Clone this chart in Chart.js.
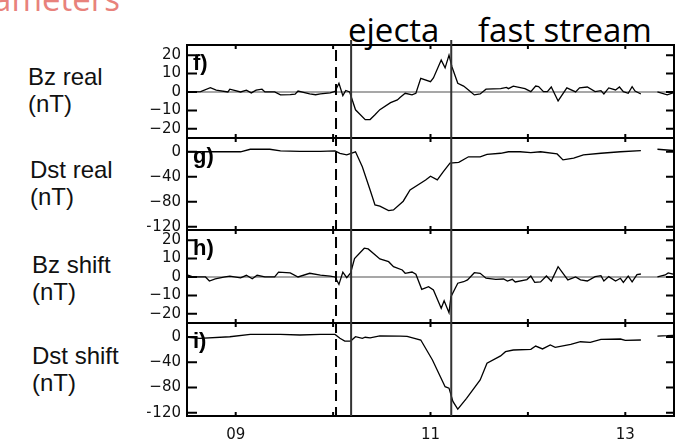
<!DOCTYPE html>
<html lang="en">
<head>
<meta charset="UTF-8">
<title>Bz and Dst, real and shifted</title>
<script src="https://cdn.jsdelivr.net/npm/chart.js"></script>
<style>
  body { margin: 0; background: #fff; }
  #wrap { position: relative; width: 675px; height: 445px; overflow: hidden; font-family: "Liberation Sans", Arial, sans-serif; }
  #wrap canvas { position: absolute; left: 0; top: 0; }
  .note { position: absolute; white-space: nowrap; line-height: 1; }
  .side { font-size: 24px; line-height: 27px; color: #111; }
  .tag { font-size: 22px; font-weight: bold; color: #000; }
  .head { font-family: "Open Sans", sans-serif; font-size: 33px; color: #000; }
</style>
</head>
<body>
<div id="wrap">
  <div class="note head" style="right:555px; top:-18px; color:#e8827c;">Parameters</div>
  <div class="note head" style="left:348px; top:13px;">ejecta</div>
  <div class="note head" style="left:478px; top:13px;">fast stream</div>

  <div class="note side" style="left:28px; top:63px;">Bz real<br>(nT)</div>
  <div class="note side" style="left:30px; top:156px;">Dst real<br>(nT)</div>
  <div class="note side" style="left:32px; top:251px;">Bz shift<br>(nT)</div>
  <div class="note side" style="left:32px; top:342px;">Dst shift<br>(nT)</div>
</div>

<script>
// time axis in days of the month
const xMin = 8.5, xMax = 13.5;
const dayTicks = [9, 10, 11, 12, 13];
const dayLabelVals = [9, 11, 13];
const dayLabelText = ['09', '11', '13'];
const bzTicks = [20, 10, 0, -10, -20];
const dstTicks = [0, -40, -80, -120];

// event times (days)
const shockTime = 10.03;
const ejectaTime = 10.185;
const streamTime = 11.213;

// f) Bz real (nT)
const bzRealT = [8.51, 8.64, 8.74, 8.80, 8.92, 8.94, 9.05, 9.11, 9.16, 9.21, 9.27, 9.30, 9.40, 9.46, 9.56, 9.61, 9.64, 9.76, 9.82, 9.87,
  9.97, 10.02, 10.06, 10.10, 10.13, 10.17, 10.23, 10.33, 10.38, 10.43, 10.48, 10.59, 10.66, 10.69, 10.74, 10.81, 10.85, 10.90, 11.00, 11.03,
  11.11, 11.15, 11.19, 11.22, 11.28, 11.34, 11.39, 11.45, 11.51, 11.57, 11.72, 11.78, 11.80, 11.85, 11.97, 12.03, 12.08, 12.11, 12.16, 12.20,
  12.24, 12.31, 12.40, 12.49, 12.53, 12.61, 12.69, 12.75, 12.78, 12.83, 12.90, 12.94, 12.98, 13.03, 13.07, 13.10, 13.16, 13.24, 13.33, 13.43, 13.49];
const bzRealV = [0, 0.2, 2.3, 1, 0, 1.5, 0, 1, -0.5, 1, 1.5, 0, 0, -1.6, -1.5, -1.2, 0.5, -1, -1.5, -1,
  -0.5, 0.3, 4.7, -2, 0.8, 0, -9.7, -15, -15, -12.4, -9.6, -5.8, -4.3, -2.9, -0.7, -1.6, -0.7, 7.4, 5.6, 7.6,
  17.3, 13.1, 20, 13.7, 4.7, 3.2, 1.1, -1.6, -1.1, 1.5, 1.8, 2.5, 1.8, 3.2, 1.8, 0.2, 3.2, 2.9, 0.2, 0.2,
  2.7, -4.9, 2.2, 0, 2.2, 2.7, 0.2, 0.7, -1.1, 2.2, 1.1, 2.7, 0.2, -0.7, 2.9, 0.5, -1.1, null, 0, -1.6, -0.5];

// g) Dst real (nT)
const dstRealT = [8.51, 9.05, 9.15, 9.35, 9.46, 9.66, 9.87, 10.02, 10.07, 10.14, 10.23, 10.30, 10.38, 10.43, 10.48, 10.57, 10.62, 10.72, 10.79, 10.95,
  11.00, 11.07, 11.13, 11.20, 11.29, 11.39, 11.51, 11.58, 11.72, 11.80, 11.92, 12.03, 12.13, 12.30, 12.36, 12.47, 12.57, 12.75, 12.95, 13.16,
  13.24, 13.33, 13.49];
const dstRealV = [0, 0, 4, 4, 1.3, 0.5, 0.5, 1.3, -2.4, -5, 0, -24, -61, -85, -87, -94, -93, -79, -61, -45,
  -39, -45, -32, -18, -17, -8, -8, -4, -2.4, 0, 0, -1.4, 0, -3.5, -13, -10, -5, -2.4, 0, 1.8,
  null, 4, 2];

// h) Bz shift (nT)
const bzShiftT = [8.51, 8.56, 8.69, 8.73, 8.79, 8.89, 8.94, 9.05, 9.11, 9.17, 9.22, 9.30, 9.40, 9.44, 9.56, 9.64, 9.76, 9.87, 9.97, 10.02,
  10.06, 10.10, 10.14, 10.18, 10.22, 10.32, 10.36, 10.43, 10.48, 10.57, 10.62, 10.71, 10.74, 10.81, 10.85, 10.91, 10.98, 11.03, 11.11, 11.14,
  11.19, 11.21, 11.28, 11.34, 11.38, 11.45, 11.51, 11.57, 11.67, 11.75, 11.79, 11.84, 11.87, 11.99, 12.03, 12.07, 12.13, 12.19, 12.24, 12.31,
  12.41, 12.49, 12.54, 12.61, 12.69, 12.75, 12.78, 12.83, 12.90, 12.95, 12.98, 13.03, 13.07, 13.12, 13.16, 13.24, 13.33, 13.41, 13.44, 13.49];
const bzShiftV = [1, 0, 0, -2.2, -1, 0, 0.5, -0.5, 0.9, -1, 0.9, 0, 0, 2.6, 2.2, 0, 2, 1, 0.5, 0,
  -4, 2.6, -0.4, 2.2, 10, 15.6, 15.2, 12, 9.8, 8.3, 5.6, 3.8, 2, 2.7, 1.5, -6.7, -5.3, -7.1, -17, -12.9,
  -19.4, -10.7, -3.4, -2.6, -1.6, 2.3, 2, -0.7, -1.3, -1.1, -2.2, -1.3, -2.7, -1.4, 0.5, -2.9, -2.7, 0.5, -2.2, 5.6,
  -1.6, 0, -1.6, -2.2, 0.2, 0.7, -2.2, 0.2, -2.2, -0.7, -2.9, 0.5, -2.6, 1.3, 1.6, null, 0, 1.1, 2.2, 1.6];

// i) Dst shift (nT)
const dstShiftT = [8.51, 8.63, 8.94, 9.15, 9.46, 9.66, 9.87, 10.02, 10.07, 10.12, 10.18, 10.23, 10.30, 10.33, 10.38, 10.48, 10.69, 10.76, 10.90, 11.02,
  11.15, 11.19, 11.23, 11.28, 11.37, 11.51, 11.58, 11.72, 11.77, 11.85, 12.03, 12.08, 12.15, 12.23, 12.28, 12.44, 12.54, 12.64, 12.75, 12.95,
  13.00, 13.16, 13.24, 13.33, 13.43, 13.49];
const dstShiftV = [-0.6, -2.2, 0.3, 4, 4, 3, 4, 4, -2.2, -6.5, -6.5, 0.3, -2.2, -0.5, -1.5, 1.5, 1.4, 1, -4.9, -36.5,
  -78.7, -81, -102, -114, -97, -68, -41.7, -30, -23.4, -20.7, -19.6, -14.4, -19, -12.8, -16.4, -11.7, -7.6, -8.5, -3.8, -3.3,
  -5.4, -4.9, null, 1.4, 1.9, 2.5];

const panels = [
  { tag: 'f)', t: bzRealT, v: bzRealV, min: -25, max: 25.5, ticks: bzTicks, zero: true, top: 45, bottom: 138 },
  { tag: 'g)', t: dstRealT, v: dstRealV, min: -125, max: 22, ticks: dstTicks, zero: false, top: 138, bottom: 230 },
  { tag: 'h)', t: bzShiftT, v: bzShiftV, min: -25, max: 25.5, ticks: bzTicks, zero: true, top: 230, bottom: 323 },
  { tag: 'i)', t: dstShiftT, v: dstShiftV, min: -125, max: 22, ticks: dstTicks, zero: false, top: 323, bottom: 416 }
];

const fmt = v => v < 0 ? '\u2212' + Math.abs(v) : String(v);

// frame, inward ticks, zero line and event lines
const framePlugin = {
  id: 'frame',
  beforeDatasetsDraw(chart, args, opts) {
    if (!opts.zero) return;
    const { ctx, chartArea: a, scales: { y } } = chart;
    const py = y.getPixelForValue(0);
    ctx.save();
    ctx.strokeStyle = '#8a8a8a';
    ctx.lineWidth = 1.5;
    ctx.beginPath();
    ctx.moveTo(a.left, py);
    ctx.lineTo(a.right, py);
    ctx.stroke();
    ctx.restore();
  },
  afterDatasetsDraw(chart, args, opts) {
    const { ctx, chartArea: a, scales: { x, y } } = chart;
    ctx.save();
    ctx.strokeStyle = '#000';
    ctx.lineWidth = 2;
    ctx.strokeRect(a.left, a.top, a.right - a.left, a.bottom - a.top);
    ctx.beginPath();
    y.ticks.forEach(tk => {
      const py = y.getPixelForValue(tk.value);
      ctx.moveTo(a.left, py); ctx.lineTo(a.left + 10, py);
      ctx.moveTo(a.right, py); ctx.lineTo(a.right - 8, py);
    });
    dayTicks.forEach(d => {
      const px = x.getPixelForValue(d);
      ctx.moveTo(px, a.top); ctx.lineTo(px, a.top + 4);
      ctx.moveTo(px, a.bottom); ctx.lineTo(px, a.bottom - 4);
    });
    ctx.stroke();

    if (opts.events) {
      ctx.strokeStyle = '#333';
      ctx.lineWidth = 2;
      ctx.beginPath();
      [ejectaTime, streamTime].forEach(t => {
        const px = x.getPixelForValue(t);
        ctx.moveTo(px, 40); ctx.lineTo(px, a.bottom);
      });
      ctx.stroke();
      ctx.strokeStyle = '#000';
      ctx.setLineDash([11, 6]);
      ctx.beginPath();
      const px = x.getPixelForValue(shockTime);
      ctx.moveTo(px, 50); ctx.lineTo(px, a.bottom);
      ctx.stroke();
    }
    ctx.restore();
  }
};

const wrap = document.getElementById('wrap');

panels.forEach((p, i) => {
  const last = i === panels.length - 1;
  const cv = document.createElement('canvas');
  cv.width = 675;
  cv.height = 445;
  wrap.appendChild(cv);

  const tag = document.createElement('div');
  tag.className = 'note tag';
  tag.style.left = '193px';
  tag.style.top = (p.top + 7) + 'px';
  tag.textContent = p.tag;
  wrap.appendChild(tag);

  new Chart(cv, {
    type: 'line',
    data: {
      datasets: [{
        data: p.t.map((t, k) => ({ x: t, y: p.v[k] })),
        borderColor: '#000',
        borderWidth: 1.3,
        pointRadius: 0,
        tension: 0,
        spanGaps: false
      }]
    },
    options: {
      responsive: false,
      animation: false,
      events: [],
      layout: { padding: { left: 147, right: 1, top: p.top, bottom: last ? 0 : 445 - p.bottom } },
      plugins: {
        legend: { display: false },
        tooltip: { enabled: false },
        frame: { zero: p.zero, events: last }
      },
      scales: {
        x: {
          type: 'linear',
          min: xMin,
          max: xMax,
          display: last,
          afterBuildTicks: s => { s.ticks = dayLabelVals.map(v => ({ value: v })); },
          afterFit: s => { if (last) s.height = 445 - p.bottom; },
          grid: { display: false, drawTicks: false },
          border: { display: false },
          ticks: {
            padding: 10,
            maxRotation: 0,
            color: '#111',
            font: { family: 'DejaVu Sans', size: 15 },
            callback: v => dayLabelText[dayLabelVals.indexOf(v)]
          }
        },
        y: {
          min: p.min,
          max: p.max,
          afterBuildTicks: s => { s.ticks = p.ticks.map(v => ({ value: v })); },
          afterFit: s => { s.width = 40; },
          grid: { display: false, drawTicks: false },
          border: { display: false },
          ticks: {
            padding: 6,
            color: '#111',
            font: { family: 'DejaVu Sans', size: 15 },
            callback: v => fmt(v)
          }
        }
      }
    },
    plugins: [framePlugin]
  });
});
</script>
</body>
</html>
